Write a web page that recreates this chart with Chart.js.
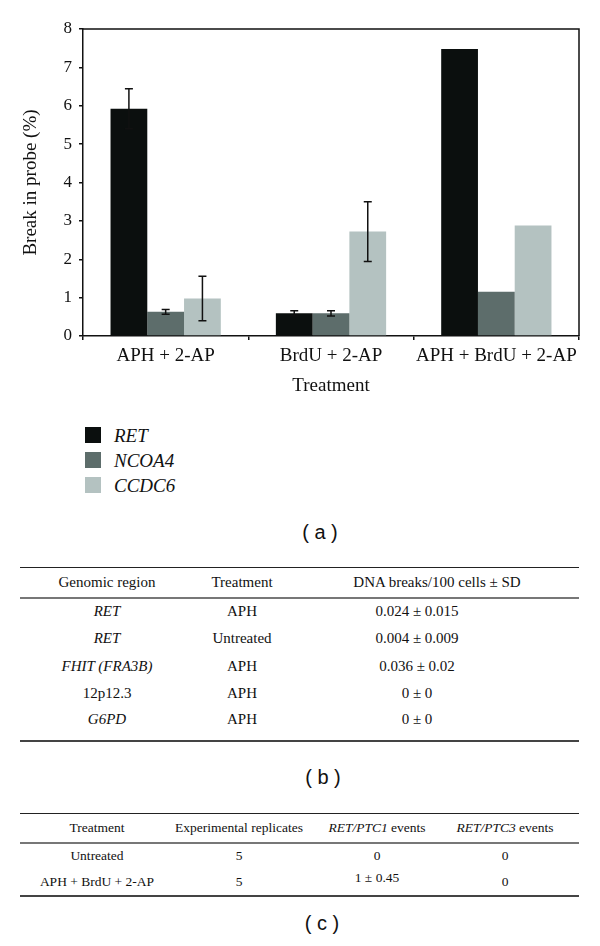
<!DOCTYPE html>
<html>
<head>
<meta charset="utf-8">
<script src="https://cdn.jsdelivr.net/npm/chart.js@4.4.0/dist/chart.umd.min.js"></script>
<style>
  body { margin: 0; background: #fff; width: 600px; height: 946px; position: relative; overflow: hidden; }
  #chartCanvas { position: absolute; left: 0; top: 0; }
  .serif { font-family: "Liberation Serif", "DejaVu Serif", serif; color: #111; }
  .legend { position: absolute; left: 85px; top: 423px; }
  .legend div { height: 25px; line-height: 25px; font-size: 19px; font-style: italic; position: relative; padding-left: 29px; }
  .legend span { position: absolute; left: 0; top: 4px; width: 16px; height: 16px; }
  .panel { position: absolute; font-family: "Liberation Sans", Arial, sans-serif; font-size: 20px; color: #111; transform: translate(-50%, -50%); white-space: pre; }
  table { position: absolute; left: 20px; width: 559px; border-collapse: collapse; font-size: 15px; table-layout: fixed; }
  td, th { text-align: center; font-weight: normal; padding: 0; white-space: nowrap; }
  table thead tr { border-top: 1px solid #222; border-bottom: 2px solid #777; }
  table tbody tr:last-child { border-bottom: 2px solid #444; }
  #tableC { font-size: 13.5px; }
  i { font-style: italic; }
</style>
</head>
<body>
<canvas id="chartCanvas" width="600" height="400"></canvas>
<div class="legend serif" id="legend"></div>
<div class="panel" style="left:320px; top:532px;">( a )</div>

<table class="serif" id="tableB" style="top:567px;">
  <colgroup><col style="width:174px"><col style="width:96px"><col style="width:254px"><col style="width:35px"></colgroup>
  <thead><tr style="height:30px"><th>Genomic region</th><th>Treatment</th><th style="padding-left:40px">DNA breaks/100 cells ± SD</th><th></th></tr></thead>
  <tbody></tbody>
</table>
<div class="panel" style="left:323px; top:777px;">( b )</div>

<table class="serif" id="tableC" style="top:813px;">
  <colgroup><col style="width:154px"><col style="width:130px"><col style="width:146px"><col style="width:110px"><col style="width:19px"></colgroup>
  <thead><tr style="height:29px"><th>Treatment</th><th>Experimental replicates</th><th><i>RET/PTC1</i> events</th><th><i>RET/PTC3</i> events</th><th></th></tr></thead>
  <tbody></tbody>
</table>
<div class="panel" style="left:322px; top:923px;">( c )</div>

<script>
    // chart data
    const treatments = ['APH + 2-AP', 'BrdU + 2-AP', 'APH + BrdU + 2-AP'];
    const seriesNames = ['RET', 'NCOA4', 'CCDC6'];
    const seriesColors = ['#0b0f0e', '#5d6d6b', '#b4c2c1'];
    const retValues = [5.92, 0.59, 7.48];
    const ncoa4Values = [0.63, 0.59, 1.15];
    const ccdc6Values = [0.98, 2.72, 2.88];
    const retErrors = [0.52, 0.07, null];
    const ncoa4Errors = [0.06, 0.07, null];
    const ccdc6Errors = [0.58, 0.78, null];
    const yTicks = [0, 1, 2, 3, 4, 5, 6, 7, 8];

    // table (b)
    const regionCol = ['<i>RET</i>', '<i>RET</i>', '<i>FHIT (FRA3B)</i>', '12p12.3', '<i>G6PD</i>'];
    const regionTreatCol = ['APH', 'Untreated', 'APH', 'APH', 'APH'];
    const breaksCol = ['0.024 ± 0.015', '0.004 ± 0.009', '0.036 ± 0.02', '0 ± 0', '0 ± 0'];

    // table (c)
    const eventTreatCol = ['Untreated', 'APH + BrdU + 2-AP'];
    const replicatesCol = ['5', '5'];
    const ptc1Col = ['0', '1 ± 0.45'];
    const ptc3Col = ['0', '0'];

    const legend = document.getElementById('legend');
    seriesNames.forEach(function (name, i) {
        const row = document.createElement('div');
        row.innerHTML = '<span style="background:' + seriesColors[i] + '"></span>' + name;
        legend.appendChild(row);
    });

    const bodyB = document.querySelector('#tableB tbody');
    regionCol.forEach(function (r, i) {
        const tr = bodyB.insertRow();
        const last = i === regionCol.length - 1;
        tr.style.height = (last ? 33 : 27.5) + 'px';
        tr.innerHTML = '<td>' + r + '</td><td>' + regionTreatCol[i] + '</td><td>' + breaksCol[i] + '</td><td></td>';
        if (last) {
            tr.style.verticalAlign = 'top';
            tr.querySelectorAll('td').forEach(td => td.style.paddingTop = '3px');
        }
    });

    const bodyC = document.querySelector('#tableC tbody');
    eventTreatCol.forEach(function (t, i) {
        const tr = bodyC.insertRow();
        tr.style.height = '26.5px';
        const p1 = i === 1 ? '<span style="position:relative;top:-4px">' + ptc1Col[i] + '</span>' : ptc1Col[i];
        tr.innerHTML = '<td>' + t + '</td><td>' + replicatesCol[i] + '</td><td>' + p1 + '</td><td>' + ptc3Col[i] + '</td><td></td>';
    });

    const allErrors = [retErrors, ncoa4Errors, ccdc6Errors];

    const errorBars = {
        id: 'errorBars',
        afterDatasetsDraw(chart) {
            const c = chart.ctx;
            const y = chart.scales.y;
            c.save();
            c.strokeStyle = '#111';
            c.lineWidth = 1.5;
            chart.data.datasets.forEach(function (ds, i) {
                const meta = chart.getDatasetMeta(i);
                meta.data.forEach(function (bar, j) {
                    const e = allErrors[i][j];
                    if (e == null) return;
                    const v = ds.data[j];
                    const yt = y.getPixelForValue(v + e);
                    const yb = y.getPixelForValue(v - e);
                    c.beginPath();
                    c.moveTo(bar.x, yt); c.lineTo(bar.x, yb);
                    c.moveTo(bar.x - 4, yt); c.lineTo(bar.x + 4, yt);
                    c.moveTo(bar.x - 4, yb); c.lineTo(bar.x + 4, yb);
                    c.stroke();
                });
            });
            c.restore();
        }
    };

    const frame = {
        id: 'frame',
        afterDraw(chart) {
            const a = chart.chartArea;
            const c = chart.ctx;
            c.save();
            c.strokeStyle = '#111';
            c.lineWidth = 1.5;
            c.beginPath();
            c.moveTo(a.left, a.top); c.lineTo(a.right, a.top); c.lineTo(a.right, a.bottom);
            c.stroke();
            c.restore();
        }
    };

    const serif = '"Liberation Serif", "DejaVu Serif", serif';
    const ctx = document.getElementById('chartCanvas');

    const chart = new Chart(ctx, {
        type: 'bar',
        data: {
            labels: treatments,
            datasets: [
                { label: seriesNames[0], data: retValues, backgroundColor: seriesColors[0] },
                { label: seriesNames[1], data: ncoa4Values, backgroundColor: seriesColors[1] },
                { label: seriesNames[2], data: ccdc6Values, backgroundColor: seriesColors[2] }
            ]
        },
        options: {
            responsive: false,
            animation: false,
            layout: { padding: { top: 29, right: 21, left: 0, bottom: 0 } },
            datasets: { bar: { categoryPercentage: 0.667, barPercentage: 1 } },
            plugins: { legend: { display: false }, tooltip: { enabled: false } },
            scales: {
                x: {
                    afterFit: function (s) { s.height = 64; },
                    grid: { drawOnChartArea: false, tickLength: 4, color: '#111', lineWidth: 1.5 },
                    border: { color: '#111', width: 1.5 },
                    ticks: { color: '#111', padding: 5, maxRotation: 0, minRotation: 0, autoSkip: false, font: { family: serif, size: 19 } },
                    title: { display: true, text: 'Treatment', color: '#111', padding: { top: 0, bottom: 3 }, font: { family: serif, size: 19 } }
                },
                y: {
                    min: 0,
                    max: 8,
                    afterFit: function (s) { s.width = 83; },
                    afterBuildTicks: function (s) { s.ticks = yTicks.map(v => ({ value: v })); },
                    grid: { drawOnChartArea: false, tickLength: 4, color: '#111', lineWidth: 1.5 },
                    border: { color: '#111', width: 1.5 },
                    ticks: { color: '#111', padding: 7, font: { family: serif, size: 17 } },
                    title: { display: true, text: 'Break in probe (%)', color: '#111', padding: { top: 20, bottom: 0 }, font: { family: serif, size: 19 } }
                }
            }
        },
        plugins: [errorBars, frame]
    });
</script>
</body>
</html>
